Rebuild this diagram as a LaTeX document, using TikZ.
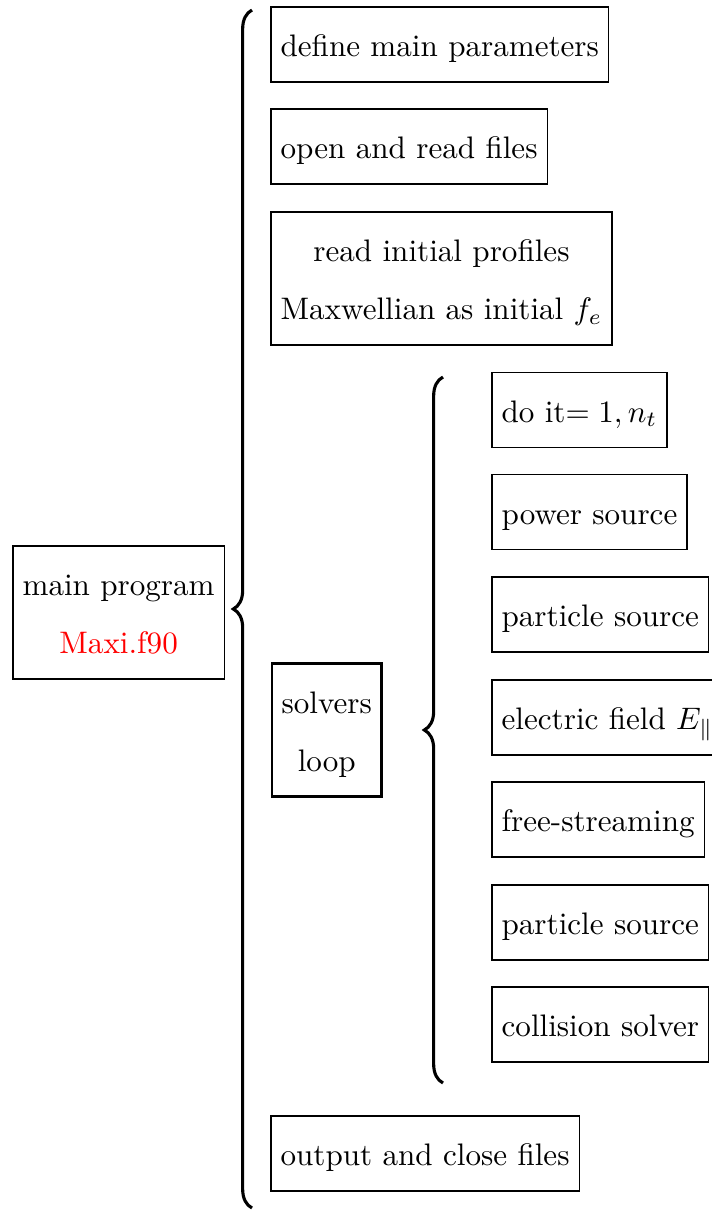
\documentclass[tikz,border=0pt]{standalone}
\usetikzlibrary{decorations.pathreplacing}
\newcommand\twolines[2]{\raisebox{0pt}[27.05pt][0.55pt]{\begin{tabular}[b]{@{}c@{}}#1\\[6.65pt]#2\end{tabular}}}
\tikzset{
  box/.style={draw, line width=0.4pt, anchor=west, inner xsep=3.1pt, inner ysep=7.6pt, outer sep=0pt},
  onebox/.style={box, text height=8.4pt, text depth=0.48pt},
  twobox/.style={box},
  loopbox/.style={twobox, line width=0.9pt},
  bigbrace/.style={decorate, decoration={brace, amplitude=6pt}, line width=1pt},
}
\begin{document}
\begin{tikzpicture}[x=0.3215pt, y=-0.3215pt]
\useasboundingbox (0,0) rectangle (712,1211);
\node[onebox] (b1) at (271,44.5) {define main parameters};
\node[onebox] (b2) at (271,146.5) {open and read files};
\node[twobox] (b3) at (271,278.5) {\twolines{read initial profiles}{Maxwellian as initial $f_e$}};
\node[onebox] (c1) at (492,410) {do it$=1,n_t$};
\node[onebox] (c2) at (492,512) {power source};
\node[onebox] (c3) at (492,614.5) {particle source};
\node[onebox] (c4) at (492,717.5) {electric field $E_\parallel$};
\node[onebox] (c5) at (492,819.5) {free-streaming};
\node[onebox] (c6) at (492,922.5) {particle source};
\node[onebox] (c7) at (492,1024.5) {collision solver};
\node[onebox] (b4) at (271,1153.5) {output and close files};
\node[twobox] (main) at (13,612.5) {\twolines{main program}{\textcolor{red}{Maxi.f90}}};
\node[loopbox] (loop) at (272,730) {\twolines{solvers}{loop}};
\coordinate (bt) at (252,10);
\coordinate (bb) at (252,1208);
\coordinate (it) at (443,377);
\coordinate (ib) at (443,1083);
\draw[bigbrace] (bb) -- (bt);
\draw[bigbrace] (ib) -- (it);
\end{tikzpicture}
\end{document}
